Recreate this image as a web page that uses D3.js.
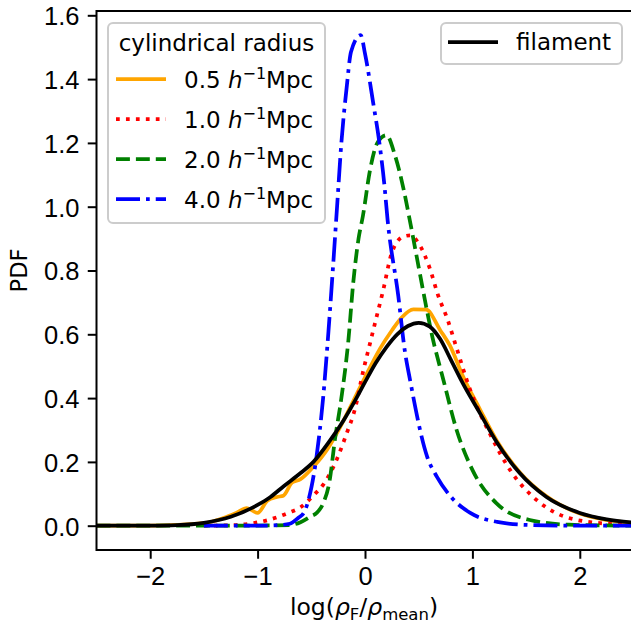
<!DOCTYPE html>
<meta charset="utf-8">
<style>
body { margin: 0; background: #fff; }
svg { font-family: "DejaVu Sans", sans-serif; }
.axis .domain { display: none; }
.axis text { font-size: 25.5px; fill: #000; }
.axis line { stroke: #000; stroke-width: 2; }
</style>
<body>
<svg width="631" height="626"></svg>
<script src="https://d3js.org/d3.v7.min.js"></script>
<script>
// PDF of log density for several cylindrical radii, plus the filament curve

var r05X = [-2.5, -2.0, -1.5, -1.32, -1.2, -1.1, -1.0, -0.91, -0.82, -0.76, -0.68, -0.6, -0.48, -0.35, -0.23, -0.11, 0.0, 0.14, 0.25, 0.34, 0.45, 0.57, 0.7, 0.79, 0.91, 1.07, 1.23, 1.44, 1.69, 2.0, 2.25, 2.5];
var r05Y = [0, 0.0005, 0.008, 0.024, 0.04, 0.055, 0.04, 0.078, 0.09, 0.094, 0.135, 0.146, 0.185, 0.24, 0.31, 0.39, 0.465, 0.555, 0.612, 0.652, 0.678, 0.677, 0.613, 0.565, 0.47, 0.365, 0.265, 0.168, 0.092, 0.038, 0.018, 0.008];

var r10X = [-1.5, -1.2, -1.04, -0.9, -0.79, -0.7, -0.6, -0.48, -0.39, -0.26, -0.17, -0.09, -0.02, 0.047, 0.108, 0.17, 0.248, 0.356, 0.42, 0.5, 0.6, 0.68, 0.77, 0.85, 0.98, 1.16, 1.35, 1.6, 1.9, 2.3, 2.5];
var r10Y = [0, 0.002, 0.008, 0.018, 0.03, 0.042, 0.058, 0.095, 0.128, 0.21, 0.29, 0.37, 0.48, 0.572, 0.655, 0.739, 0.854, 0.906, 0.91, 0.885, 0.81, 0.723, 0.645, 0.56, 0.425, 0.29, 0.175, 0.08, 0.024, 0.005, 0.002];

var r20X = [-2.5, -1.5, -1.0, -0.7, -0.6, -0.5, -0.45, -0.39, -0.33, -0.28, -0.22, -0.155, -0.11, -0.06, -0.02, 0.047, 0.115, 0.2, 0.28, 0.356, 0.41, 0.5, 0.558, 0.62, 0.73, 0.853, 1.0, 1.225, 1.535, 1.9, 2.5];
var r20Y = [0, 0, 0.0005, 0.002, 0.011, 0.03, 0.04, 0.07, 0.14, 0.27, 0.40, 0.58, 0.76, 0.9, 0.97, 1.115, 1.2, 1.224, 1.16, 1.06, 0.97, 0.81, 0.707, 0.603, 0.457, 0.30, 0.175, 0.07, 0.018, 0.003, 0];

var r40X = [-1.5, -1.0, -0.8, -0.7, -0.62, -0.57, -0.54, -0.45, -0.39, -0.34, -0.30, -0.26, -0.22, -0.17, -0.13, -0.04, 0.0, 0.077, 0.13, 0.18, 0.21, 0.31, 0.37, 0.42, 0.58, 0.67, 0.81, 0.98, 1.23, 1.54, 2.0, 2.5];
var r40Y = [0, 0, 0.002, 0.006, 0.025, 0.04, 0.065, 0.22, 0.40, 0.61, 0.80, 1.0, 1.2, 1.376, 1.486, 1.538, 1.48, 1.324, 1.21, 1.07, 0.96, 0.72, 0.55, 0.456, 0.215, 0.153, 0.087, 0.04, 0.012, 0.002, 0, 0];

var filX = [-2.5, -2.0, -1.75, -1.5, -1.25, -1.0, -0.88, -0.76, -0.6, -0.48, -0.33, -0.2, -0.08, 0.0, 0.1, 0.2, 0.3, 0.4, 0.5, 0.6, 0.7, 0.8, 0.91, 1.07, 1.23, 1.44, 1.69, 2.0, 2.25, 2.5];
var filY = [0, 0.0005, 0.002, 0.009, 0.028, 0.065, 0.09, 0.123, 0.165, 0.2, 0.265, 0.33, 0.4, 0.45, 0.51, 0.56, 0.6, 0.626, 0.636, 0.625, 0.585, 0.52, 0.447, 0.353, 0.26, 0.165, 0.09, 0.04, 0.02, 0.01];

var radiusLabels = ["0.5", "1.0", "2.0", "4.0"];
var xTicks = [-2, -1, 0, 1, 2];
var yTicks = [0, 0.2, 0.4, 0.6, 0.8, 1.0, 1.2, 1.4, 1.6];

var svg = d3.select("svg"),
    plotL = 96.5, plotR = 633.5, plotT = 11, plotB = 550;

var x = d3.scaleLinear().domain([-2.5, 2.5]).range([plotL, plotR]);
var y = d3.scaleLinear().domain([-0.0762, 1.6135]).range([plotB, plotT]);

svg.append("clipPath").attr("id", "clip")
  .append("rect")
    .attr("x", plotL).attr("y", plotT)
    .attr("width", plotR - plotL).attr("height", plotB - plotT);

var series = [
  {xs: r05X, ys: r05Y, color: "orange", dash: null},
  {xs: r10X, ys: r10Y, color: "red", dash: "3.75,6.2"},
  {xs: r20X, ys: r20Y, color: "green", dash: "13.9,6"},
  {xs: r40X, ys: r40Y, color: "blue", dash: "24,6,3.75,6"},
  {xs: filX, ys: filY, color: "black", dash: null}
];

var line = d3.line()
    .x(function(d) { return x(d[0]); })
    .y(function(d) { return y(d[1]); })
    .curve(d3.curveMonotoneX);

var plot = svg.append("g").attr("clip-path", "url(#clip)");

series.forEach(function(s) {
  var pts = s.xs.map(function(v, i) { return [v, s.ys[i]]; });
  plot.append("path")
      .attr("d", line(pts))
      .attr("fill", "none")
      .attr("stroke", s.color)
      .attr("stroke-width", 3.75)
      .attr("stroke-dasharray", s.dash)
      .attr("stroke-linejoin", "round");
});

// axes
svg.append("g")
    .attr("class", "axis")
    .attr("transform", "translate(0," + plotB + ")")
    .call(d3.axisBottom(x).tickValues(xTicks).tickSize(8.75).tickPadding(8.25)
      .tickFormat(function(d) { return d < 0 ? "\u2212" + Math.abs(d) : d; }));

svg.append("g")
    .attr("class", "axis")
    .attr("transform", "translate(" + plotL + ",0)")
    .call(d3.axisLeft(y).tickValues(yTicks).tickSize(8.75).tickPadding(8.25)
      .tickFormat(d3.format(".1f")))
  .selectAll("text").attr("dy", "0.37em");

svg.append("rect")
    .attr("x", plotL).attr("y", plotT)
    .attr("width", plotR - plotL).attr("height", plotB - plotT)
    .attr("fill", "none").attr("stroke", "#000").attr("stroke-width", 2);

// axis labels
var xl = svg.append("text")
    .attr("x", (plotL + plotR) / 2 - 1)
    .attr("y", 615)
    .attr("text-anchor", "middle")
    .style("font-size", "23.5px");
xl.append("tspan").text("log(");
xl.append("tspan").style("font-style", "italic").text("\u03c1");
xl.append("tspan").attr("dy", 5).style("font-size", "16.5px").text("F");
xl.append("tspan").attr("dy", -5).text("/");
xl.append("tspan").style("font-style", "italic").text("\u03c1");
xl.append("tspan").attr("dy", 5).style("font-size", "16.5px").text("mean");
xl.append("tspan").attr("dy", -5).text(")");

svg.append("text")
    .attr("transform", "translate(26.5," + ((plotT + plotB) / 2 - 10) + ") rotate(-90)")
    .attr("text-anchor", "middle")
    .style("font-size", "22.5px")
    .text("PDF");

// legend: cylindrical radius
var lg = svg.append("g").style("font-size", "23px");
lg.append("rect")
    .attr("x", 108).attr("y", 23).attr("width", 217).attr("height", 200)
    .attr("rx", 5)
    .attr("fill", "#fff").attr("fill-opacity", 0.8)
    .attr("stroke", "#ccc").attr("stroke-width", 2);
lg.append("text")
    .attr("x", 216.5).attr("y", 50.5)
    .attr("text-anchor", "middle")
    .text("cylindrical radius");

radiusLabels.forEach(function(lab, i) {
  var s = series[i], ly = 79 + i * 40;
  lg.append("line")
      .attr("x1", 116).attr("x2", 166)
      .attr("y1", ly).attr("y2", ly)
      .attr("stroke", s.color).attr("stroke-width", 3.75)
      .attr("stroke-dasharray", s.dash);
  var t = lg.append("text").attr("x", 184).attr("y", ly + 9);
  t.append("tspan").text(lab + " ");
  t.append("tspan").style("font-style", "italic").text("h");
  t.append("tspan").attr("dy", -9).style("font-size", "16px").text("\u22121");
  t.append("tspan").attr("dy", 9).text("Mpc");
});

// legend: filament
var lf = svg.append("g").style("font-size", "23px");
lf.append("rect")
    .attr("x", 441).attr("y", 23).attr("width", 181).attr("height", 41)
    .attr("rx", 5)
    .attr("fill", "#fff").attr("fill-opacity", 0.8)
    .attr("stroke", "#ccc").attr("stroke-width", 2);
lf.append("line")
    .attr("x1", 448).attr("x2", 498)
    .attr("y1", 42).attr("y2", 42)
    .attr("stroke", "black").attr("stroke-width", 3.75);
lf.append("text").attr("x", 516).attr("y", 50).text("filament");
</script>
